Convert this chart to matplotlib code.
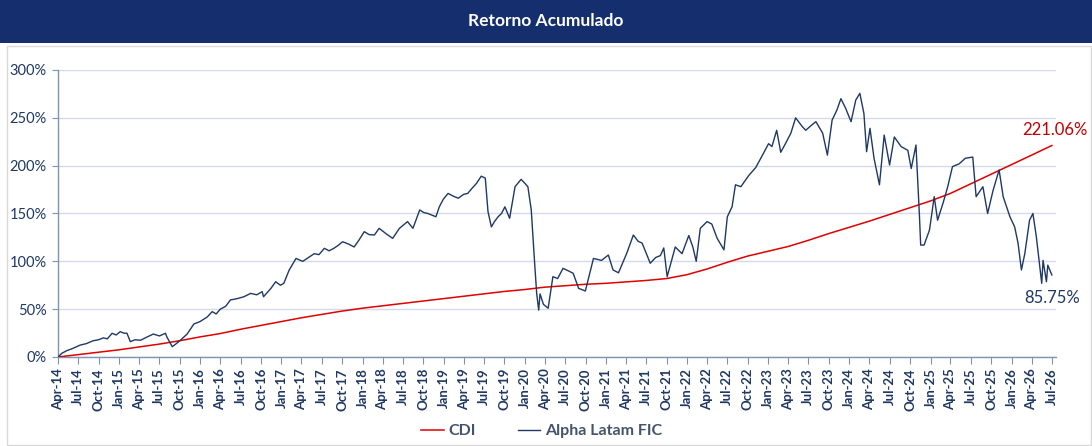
import numpy as np
import pandas as pd
import matplotlib
matplotlib.use("Agg")
import matplotlib.pyplot as plt
import matplotlib.dates as mdates
from matplotlib.ticker import FuncFormatter
from matplotlib.patches import Rectangle

plt.rcParams['font.family'] = ['Lato', 'DejaVu Sans']

title = "Retorno Acumulado"
start = pd.Timestamp("2014-04-01")

# months since Apr-14
cdi_months = [0, 3, 6, 9, 12, 15, 18, 21, 24, 27, 30, 33, 36, 39, 42, 45, 48,
              51, 54, 57, 60, 63, 66, 69, 72, 75, 78, 81, 84, 87, 90, 93, 96,
              99, 102, 105, 108, 111, 114, 117, 120, 123, 126, 129, 132, 135,
              138, 141, 144, 147]
cdi_values = [0, 2.5, 5, 7.5, 10.5, 13.5, 17, 21, 24.5, 29, 33, 37, 41, 44.5,
              48, 51, 53.5, 56, 58.5, 61, 63.5, 66, 68.5, 70.5, 73, 74.5, 76,
              77, 78.5, 80, 82, 86, 92, 99, 105.5, 110.5, 115.5, 122, 129,
              135.5, 142, 149, 156, 163, 171, 181, 191, 201, 211, 221.06]

alpha_months = [0, 0.6, 1.3, 2.2, 3.3, 4.2, 5.2, 6.0, 6.7, 7.3, 8.0, 8.6, 9.2,
                9.7, 10.2, 10.7, 11.4, 12.2, 13.2, 14.1, 15.0, 15.9, 16.1,
                16.9, 17.5, 18.1, 19.1, 20.1, 21.0, 22.1, 22.8, 23.4, 24.0,
                24.8, 25.5, 26.5, 27.5, 28.5, 29.4, 30.2, 30.4, 31.5, 32.2,
                32.9, 33.4, 34.2, 35.2, 36.2, 37.4, 37.9, 38.6, 39.4, 40.1,
                40.8, 41.5, 42.1, 43.0, 43.8, 44.5, 45.3, 46.0, 46.8, 47.5,
                48.5, 49.5, 50.5, 51.7, 52.5, 53.5, 54.1, 54.7, 55.9, 56.4,
                57.0, 57.7, 58.5, 59.2, 60.0, 60.6, 61.2, 61.9, 62.6, 63.2,
                63.6, 64.1, 64.6, 65.1, 65.6, 66.1, 66.8, 67.6, 68.5, 69.0,
                69.5, 70.0, 70.5, 70.8, 71.1, 71.3, 71.8, 72.5, 73.2, 73.9,
                74.7, 75.5, 76.2, 77.0, 78.0, 79.2, 80.4, 81.4, 82.1, 82.9,
                84.1, 85.1, 85.8, 86.4, 87.6, 88.4, 89.1, 89.6, 90.1, 91.3,
                92.3, 93.3, 93.9, 94.4, 95.0, 96.0, 96.7, 97.5, 98.5, 99.0,
                99.7, 100.2, 101.0, 102.2, 103.2, 104.2, 105.1, 105.6, 106.3,
                106.9, 107.6, 108.1, 108.4, 109.1, 110.1, 110.6, 111.4, 112.1,
                113.1, 113.8, 114.5, 115.2, 115.8, 116.5, 117.3, 118.0, 118.6,
                119.2, 119.6, 120.1, 120.7, 121.5, 122.2, 123.0, 123.7, 124.7,
                125.7, 126.2, 126.9, 127.2, 127.4, 127.6, 128.1, 128.9, 129.6,
                130.1, 130.9, 131.6, 132.3, 133.3, 134.2, 135.3, 135.8, 136.8,
                137.5, 138.3, 139.2, 139.8, 140.8, 141.5, 142.0, 142.5, 143.0,
                143.7, 144.2, 144.7, 145.1, 145.5, 145.7, 146.2, 146.4, 147.0]
alpha_values = [0, 4, 6.6, 9, 12.5, 14, 17, 18, 20, 19, 24.8, 23, 26.5, 25,
                24.8, 16, 18, 17.5, 21, 24, 22, 24.8, 21, 10.8, 14, 17.5, 24,
                34.5, 37, 42, 47.4, 45, 50, 53, 59.6, 61, 63, 66.5, 65, 68.3,
                63, 71.8, 78.7, 75, 77, 91, 103, 100, 105.6, 108, 107, 113.6,
                111, 113.6, 117, 120.5, 118, 115, 122, 131, 128, 127.5, 134.5,
                129, 124, 134.5, 141.5, 134.5, 153.7, 151, 150, 146.6, 157,
                165, 171, 168, 166, 170, 171, 176, 181.5, 189, 187, 152, 136,
                142, 146.6, 150, 157, 145, 178, 185.7, 182, 178, 153.7, 98,
                66.6, 49, 66, 55, 51, 84, 82, 92.7, 90, 87.5, 71.8, 69, 103,
                101, 106.6, 91, 88, 108, 127.5, 121, 119, 98, 104, 106, 114,
                84, 115, 108, 127, 115, 100, 134.5, 141.5, 139, 124, 112,
                146.6, 157, 180, 178, 190, 198, 211, 223, 220, 237, 214, 223,
                230, 234, 250, 240.7, 237, 242, 246, 234, 211, 247.7, 258, 270,
                260, 246, 268.6, 275.6, 254.7, 214.6, 239, 207.7, 180, 232,
                200.7, 230, 220, 216, 197, 221.6, 178, 150, 117, 117, 132.7,
                167.6, 143, 160.7, 178, 199, 202, 207.7, 209, 167.6, 178, 150,
                174, 195.5, 167.6, 146.6, 136, 119, 91, 108, 143, 150, 126,
                101, 77, 101, 78.7, 96, 85.75]


def to_dates(months):
    return start + pd.to_timedelta(np.array(months) * 30.4375, unit="D")


cdi_dates = to_dates(cdi_months)
alpha_dates = to_dates(alpha_months)

navy = "#1F3864"
red = "#E00000"

fig = plt.figure(figsize=(10.92, 4.46), dpi=100)

# header bar and frame
fig.patches.append(Rectangle((0, 1 - 43 / 446), 1, 43 / 446, transform=fig.transFigure,
                             facecolor="#142E6E", edgecolor="none", zorder=0))
fig.patches.append(Rectangle((7 / 1092, 0.002), 1 - 8 / 1092, 1 - 47 / 446,
                             transform=fig.transFigure, facecolor="none",
                             edgecolor="#D9D9D9", lw=1, zorder=0))
fig.text(0.5, 1 - 21 / 446, title, color="white", fontsize=12.5,
         fontweight="bold", ha="center", va="center")

ax = fig.add_axes([58 / 1092, 1 - 357 / 446, (1056 - 58) / 1092, (357 - 70) / 446])

ax.plot(cdi_dates, cdi_values, color=red, lw=1.1, label="CDI", zorder=3)
ax.plot(alpha_dates, alpha_values, color=navy, lw=1.0, label="Alpha Latam FIC", zorder=4)

ax.set_ylim(0, 300)
ax.set_yticks(range(0, 301, 50))
ax.yaxis.set_major_formatter(FuncFormatter(lambda v, p: f"{v:.0f}%"))
ax.set_xlim(start, pd.Timestamp("2026-07-20"))
ax.xaxis.set_major_locator(mdates.MonthLocator(bymonth=[1, 4, 7, 10]))
ax.xaxis.set_major_formatter(mdates.DateFormatter("%b-%y"))

ax.grid(axis="y", color="#D3DBEA", lw=1)
ax.set_axisbelow(True)
for s in ["top", "right"]:
    ax.spines[s].set_visible(False)
for s in ["left", "bottom"]:
    ax.spines[s].set_color("#7F93B2")
    ax.spines[s].set_linewidth(1)

ax.tick_params(axis="x", rotation=90, labelsize=9.5, colors="#7F93B2",
               labelcolor=navy, length=5, pad=3)
ax.tick_params(axis="y", labelsize=10.5, colors="#7F93B2", labelcolor=navy,
               length=4, pad=4)
for lbl in ax.get_xticklabels():
    lbl.set_fontweight("bold")

ax.annotate(f"{cdi_values[-1]:.2f}%", xy=(cdi_dates[-1], cdi_values[-1]),
            xytext=(2, 11), textcoords="offset points", ha="center",
            va="center", color="#C00000", fontsize=12, annotation_clip=False)
ax.annotate(f"{alpha_values[-1]:.2f}%", xy=(alpha_dates[-1], alpha_values[-1]),
            xytext=(0, -16.5), textcoords="offset points", ha="center",
            va="center", color=navy, fontsize=12, annotation_clip=False)

leg = fig.legend(loc="center", bbox_to_anchor=(0.496, 1 - 431 / 446), ncol=2,
                 frameon=False, handlelength=1.4, handletextpad=0.3,
                 columnspacing=2.6, prop={"weight": "bold", "size": 11.5})
for t in leg.get_texts():
    t.set_color("#44546A")

fig.savefig("out.png", dpi=100)
